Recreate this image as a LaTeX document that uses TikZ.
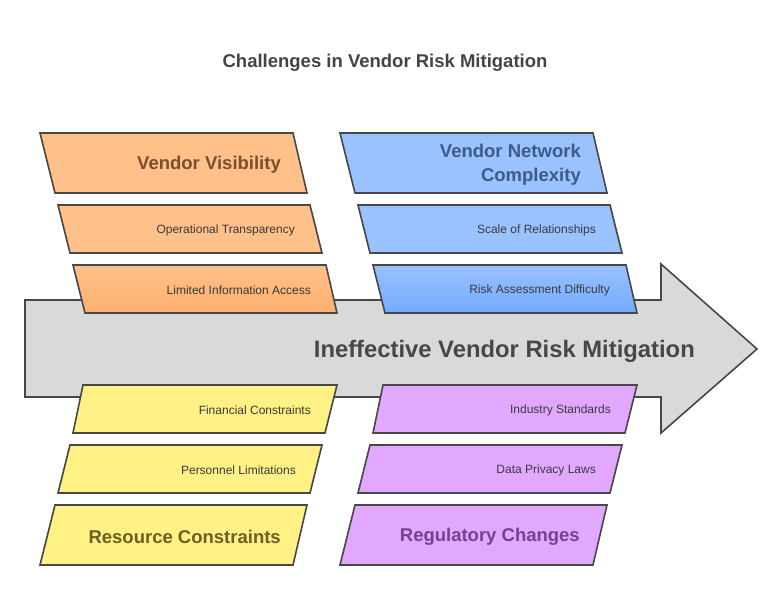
\documentclass[tikz,border=0pt]{standalone}
\usepackage{fontspec}
\setmainfont{Liberation Sans}
\definecolor{edge}{HTML}{474747}
\definecolor{arrowgray}{HTML}{D9D9D9}
\definecolor{orangeA}{HTML}{FFC08A}
\definecolor{orangeB}{HTML}{FDB06E}
\definecolor{blueA}{HTML}{99C2FF}
\definecolor{blueB}{HTML}{74AAFF}
\definecolor{yellowA}{HTML}{FFF185}
\definecolor{purpleA}{HTML}{E2A8FF}
\definecolor{txtsmall}{HTML}{3A3A3A}
\definecolor{txttitle}{HTML}{444444}
\definecolor{txtorange}{HTML}{7A4F2F}
\definecolor{txtblue}{HTML}{3D5A8A}
\definecolor{txtyellow}{HTML}{6B6024}
\definecolor{txtpurple}{HTML}{7A3F8F}
\begin{document}
\begin{tikzpicture}[x=1pt,y=-1pt,
  box/.style={draw=edge, line width=1.6pt, line join=miter},
  smalltxt/.style={anchor=east, inner sep=0pt, text=txtsmall, font=\fontsize{12}{14}\selectfont},
  headtxt/.style={anchor=east, inner sep=0pt, font=\fontsize{18.5}{24}\selectfont\bfseries, align=right},
]
\useasboundingbox (0,0) rectangle (782,614);
% title
\node[text=txttitle, font=\fontsize{18.5}{22}\selectfont\bfseries] (title) at (385,62.5) {Challenges in Vendor Risk Mitigation};
% main arrow
\draw[box, fill=arrowgray] (25,300) -- (661,300) -- (661,264) -- (757,349) -- (661,433) -- (661,397) -- (25,397) -- cycle;
\node[anchor=east, inner sep=0pt, text=edge, font=\fontsize{23.8}{28}\selectfont\bfseries] (effect) at (695,351.5) {Ineffective Vendor Risk Mitigation};
% top-left group
\draw[box, fill=orangeA] (40,133) -- (293,133) -- (307,193) -- (55,193) -- cycle;
\draw[box, fill=orangeA] (58,205) -- (310,205) -- (322,253) -- (70,253) -- cycle;
\draw[box, top color=orangeA, bottom color=orangeB] (73,265) -- (326,265) -- (337,313) -- (85,313) -- cycle;
\node[headtxt, text=txtorange] (vv) at (281,165) {Vendor Visibility};
\node[smalltxt] (ot) at (295,230) {Operational Transparency};
\node[smalltxt] (lia) at (311,290) {Limited Information Access};
% top-right group
\draw[box, fill=blueA] (340,133) -- (593,133) -- (607,193) -- (355,193) -- cycle;
\draw[box, fill=blueA] (358,205) -- (610,205) -- (622,253) -- (370,253) -- cycle;
\draw[box, top color=blueA, bottom color=blueB] (373,265) -- (626,265) -- (637,313) -- (385,313) -- cycle;
\node[headtxt, text=txtblue] (vnc) at (581,165) {Vendor Network\\Complexity};
\node[smalltxt] (sr) at (596,230) {Scale of Relationships};
\node[smalltxt] (rad) at (610,290) {Risk Assessment Difficulty};
% bottom-left group
\draw[box, fill=yellowA] (83,385) -- (337,385) -- (325,433) -- (73,433) -- cycle;
\draw[box, fill=yellowA] (70,445) -- (322,445) -- (310,493) -- (58,493) -- cycle;
\draw[box, fill=yellowA] (55,505) -- (307,505) -- (293,565) -- (40,565) -- cycle;
\node[smalltxt] (fc) at (311,410) {Financial Constraints};
\node[smalltxt] (pl) at (296,470) {Personnel Limitations};
\node[headtxt, text=txtyellow] (rc) at (281,537) {Resource Constraints};
% bottom-right group
\draw[box, fill=purpleA] (383,385) -- (637,385) -- (625,433) -- (373,433) -- cycle;
\draw[box, fill=purpleA] (370,445) -- (622,445) -- (610,493) -- (358,493) -- cycle;
\draw[box, fill=purpleA] (355,505) -- (607,505) -- (593,565) -- (340,565) -- cycle;
\node[smalltxt] (is) at (611,410) {Industry Standards};
\node[smalltxt] (dpl) at (596,470) {Data Privacy Laws};
\node[headtxt, text=txtpurple] (regc) at (580,537) {Regulatory Changes};
\end{tikzpicture}
\end{document}
